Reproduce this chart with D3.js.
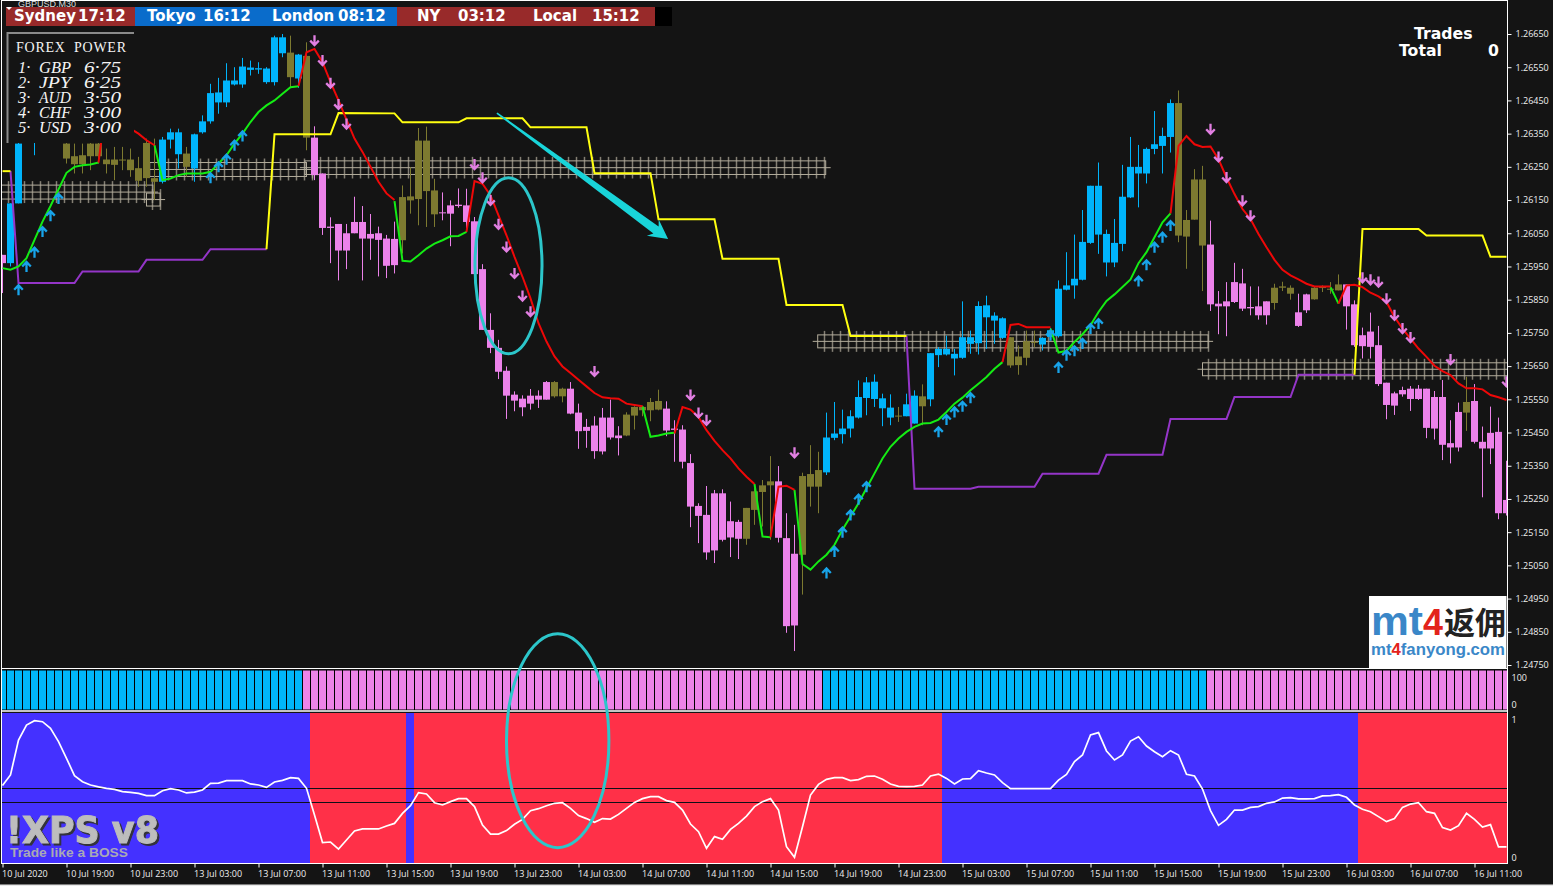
<!DOCTYPE html>
<html>
<head>
<meta charset="utf-8">
<title>GBPUSD M30</title>
<script src="https://cdn.jsdelivr.net/npm/d3@7"></script>
<style>
    html, body { margin: 0; padding: 0; background: #141414; overflow: hidden; }
    svg { display: block; }
</style>
</head>
<body>
<div id="chart"></div>
<script>
// all prices are in points (1 point = 0.00001)
const bodyHigh = [125985,126140,126320,126410,126450,126470,126490,126420,126320,126282,126285,126320,126320,126272,126272,126272,126272,126246,126322,126216,126332,126354,126354,126290,126348,126387,126472,126474,126510,126510,126552,126549,126547,126546,126640,126640,126594,126588,126584,126338,126230,126070,126078,126050,126084,126084,126048,126050,126034,126033,126159,126161,126329,126329,126179,126113,126134,126136,126134,126086,125942,125759,125705,125636,125564,125552,125561,125561,125602,125602,125582,125582,125510,125467,125471,125495,125495,125441,125504,125527,125527,125542,125545,125522,125462,125459,125358,125229,125202,125267,125267,125183,125181,125223,125273,125291,125303,125303,125132,125085,125319,125325,125337,125435,125447,125462,125499,125557,125601,125603,125553,125525,125501,125535,125561,125559,125689,125702,125702,125687,125737,125737,125831,125833,125802,125794,125737,125679,125725,125723,125735,125758,125883,125893,125913,126024,126193,126193,126048,126021,126160,126250,126250,126304,126318,126343,126442,126442,126090,126212,126212,126016,125838,125845,125903,125899,125828,125830,125845,125886,125890,125886,125812,125866,125886,125888,125883,125896,125896,125836,125743,125754,125713,125600,125568,125578,125582,125582,125582,125557,125557,125418,125512,125542,125545,125422,125449,125452,125247];
const bodyLow = [125960,125960,126140,126330,126330,126420,126460,126340,126275,126258,126258,126282,126282,126258,126256,126270,126240,126208,126216,126205,126205,126332,126288,126250,126245,126354,126387,126444,126444,126498,126498,126542,126543,126505,126505,126592,126520,126516,126338,126225,126066,126066,125998,125998,126050,126034,126034,126030,125952,125954,126029,126149,126153,126177,126107,126111,126109,126132,126084,125927,125759,125705,125633,125561,125546,125526,125537,125549,125549,125559,125559,125507,125454,125455,125394,125393,125435,125433,125441,125501,125517,125517,125519,125456,125458,125362,125227,125199,125089,125095,125127,125134,125130,125130,125217,125271,125291,125133,124867,124869,125082,125287,125287,125330,125434,125445,125462,125495,125554,125551,125523,125495,125499,125499,125477,125529,125550,125683,125685,125673,125675,125717,125719,125797,125787,125735,125652,125653,125675,125721,125715,125738,125740,125880,125893,125910,126021,126046,125962,125962,126018,126158,126230,126230,126304,126313,126340,126043,126040,126091,126013,125836,125830,125830,125843,125823,125824,125803,125803,125840,125886,125868,125771,125818,125851,125886,125881,125878,125830,125713,125710,125708,125596,125533,125531,125565,125551,125551,125464,125462,125413,125405,125405,125510,125422,125402,125402,125207,125207];
const wickHigh = [125985,126140,126340,126430,126470,126500,126520,126530,126350,126320,126320,126340,126350,126305,126310,126310,126305,126280,126335,126335,126340,126365,126365,126310,126350,126405,126500,126518,126562,126550,126578,126570,126565,126550,126645,126650,126645,126590,126625,126372,126230,126098,126078,126078,126160,126132,126108,126070,126045,126085,126194,126249,126367,126371,126214,126173,126149,126185,126184,126099,125957,125809,125729,125649,125574,125562,125581,125577,125605,125605,125585,125602,125537,125491,125499,125524,125549,125469,125511,125529,125531,125554,125579,125544,125487,125472,125385,125237,125289,125277,125279,125242,125187,125223,125295,125307,125379,125349,125207,125172,125329,125412,125392,125510,125542,125519,125517,125607,125617,125625,125567,125565,125527,125567,125577,125595,125689,125707,125742,125702,125845,125757,125845,125862,125812,125797,125737,125712,125757,125757,125737,125765,125908,125993,126046,126120,126193,126263,126061,126093,126256,126340,126316,126308,126418,126368,126453,126480,126120,126243,126253,126088,125876,125903,125961,125943,125890,125890,125845,125898,125904,125893,125868,125868,125888,125893,125903,125926,125896,125848,125766,125811,125771,125600,125573,125588,125590,125593,125582,125575,125608,125487,125540,125618,125596,125468,125528,125495,125365];
const wickLow = [125870,125950,126140,126330,126285,126340,126350,126340,126260,126230,126230,126240,126260,126230,126210,126240,126220,126190,126190,126150,126200,126305,126245,126220,126205,126350,126380,126410,126430,126495,126488,126525,126530,126500,126495,126580,126490,126488,126300,126210,126045,125960,125908,125942,126050,125908,125970,125920,125915,125929,125989,126109,126074,126069,126069,126089,126011,126127,126054,125927,125759,125689,125611,125491,125514,125499,125519,125524,125549,125555,125541,125505,125401,125404,125371,125384,125429,125381,125439,125459,125499,125484,125517,125439,125362,125342,125165,125117,125067,125057,125122,125075,125069,125112,125172,125167,125127,125119,124847,124792,124962,125227,125207,125322,125427,125417,125435,125492,125502,125527,125469,125472,125482,125499,125477,125472,125529,125647,125682,125622,125672,125687,125685,125702,125717,125732,125645,125624,125652,125707,125697,125730,125736,125878,125853,125908,126018,125988,125920,125948,125996,126156,126128,126200,126288,126230,126293,126023,125943,126091,125876,125816,125746,125740,125840,125816,125803,125790,125775,125820,125876,125850,125768,125810,125850,125873,125868,125878,125760,125708,125673,125673,125590,125490,125503,125558,125515,125548,125433,125429,125367,125357,125393,125455,125417,125255,125355,125189,125200];
// candle colour runs: b blue, o olive, p violet
const toneRuns = [['p',1],['b',5],['o',14],['b',3],['o',1],['b',12],['o',1],['b',1],['o',1],['p',11],['o',5],['p',14],['o',2],['p',7],['o',5],['p',10],['o',4],['p',3],['o',3],['b',9],['o',1],['b',2],['o',1],['b',10],['o',4],['b',17],['o',4],['p',8],['o',3],['p',2],['o',4],['p',15],['o',1],['p',5]];

// moving average pieces as [bar, price]
const maGreen = [
    [[0,125945],[1,125940],[2,125950],[3,125975],[4,126030],[5,126085],[6,126132],[7,126182],[8,126232],[9,126250],[10,126255],[11,126257],[12,126263]],
    [[19,126315],[20,126210],[21,126215],[22,126225],[23,126230],[24,126230],[25,126230],[26,126235],[27,126260],[28,126285],[29,126320],[30,126350],[31,126385],[32,126415],[33,126435],[34,126450],[35,126470],[36,126490],[37,126493]],
    [[49,126147],[50,125967],[51,125965],[52,125984],[53,126004],[54,126019],[55,126029],[56,126041],[57,126042],[58,126054]],
    [[80,125529],[81,125437],[82,125441],[83,125447],[84,125449]],
    [[94,125295],[95,125137],[96,125135]],
    [[99,125277],[100,125054],[101,125037],[102,125062],[103,125082],[104,125112],[105,125157],[106,125197],[107,125237],[108,125282],[109,125327],[110,125372],[111,125407],[112,125432],[113,125452],[114,125467],[115,125477],[116,125479],[117,125489],[118,125512],[119,125537],[120,125555],[121,125577],[122,125597],[123,125617],[124,125642],[125,125662]],
    [[131,125763],[132,125691],[133,125696],[134,125723],[135,125746],[136,125773],[137,125813],[138,125846],[139,125866],[140,125888],[141,125911],[142,125960],[143,125993],[144,126038],[145,126083],[146,126110]],
    [[166,125888],[167,125838]]
];
const maRed = [
    [[12,126263],[13,126450],[14,126430],[15,126400],[16,126365],[17,126350],[18,126330],[19,126315]],
    [[37,126493],[38,126595],[39,126605],[40,126565],[41,126505],[42,126450],[43,126392],[44,126335],[45,126295],[46,126250],[47,126205],[48,126170],[49,126150]],
    [[58,126054],[59,126207],[60,126199],[61,126164],[62,126104],[63,126044],[64,125979],[65,125919],[66,125854],[67,125779],[68,125724],[69,125679],[70,125649],[71,125629],[72,125609],[73,125589],[74,125569],[75,125556],[76,125553],[77,125552],[78,125537],[79,125533],[80,125529]],
    [[84,125447],[85,125527],[86,125519],[87,125497],[88,125457],[89,125425],[90,125397],[91,125372],[92,125342],[93,125317],[94,125295]],
    [[96,125135],[97,125287],[98,125290],[99,125277]],
    [[125,125662],[126,125774],[127,125777],[128,125767],[129,125767],[130,125767],[131,125767]],
    [[146,126110],[147,126313],[148,126343],[149,126318],[150,126310],[151,126311],[152,126273],[153,126218],[154,126168],[155,126123],[156,126093],[157,126048],[158,126008],[159,125970],[160,125940],[161,125923],[162,125911],[163,125898],[164,125890],[165,125890],[166,125890]],
    [[167,125838],[168,125893],[169,125895],[170,125888],[171,125871],[172,125860],[173,125843],[174,125798],[175,125763],[176,125733],[177,125703],[178,125678],[179,125651],[180,125635],[181,125623],[182,125598],[183,125583],[184,125583],[185,125580],[186,125563],[187,125556],[188,125548]]
];

// stepped channel lines, yellow above price and purple below
const channelYellow = [
    [[0,126237],[1,126237]],
    [[33,126002],[34,126348],[41,126348],[42,126412],[49,126411],[50,126384],[57,126384],[58,126396],[65,126396],[66,126369],[73,126369],[74,126231],[81,126231],[82,126092],[89,126092],[90,125973],[97,125973],[98,125834],[105,125834],[106,125741],[113,125741]],
    [[169,125624],[170,126063],[177,126063],[178,126043],[185,126043],[186,125979],[188,125979]]
];
const channelPurple = [
    [[1,126237],[2,125900],[9,125900],[10,125935],[17,125935],[18,125970],[25,125970],[26,126002],[33,126002]],
    [[113,125741],[114,125281],[121,125281],[122,125287],[129,125287],[130,125326],[137,125326],[138,125383],[145,125383],[146,125491],[153,125491],[154,125557],[161,125557],[162,125624],[169,125624]]
];

// signal arrows as [bar, price]
const arrowsUp = [[2,125880],[3,125950],[4,125993],[5,126055],[6,126103],[7,126155],[26,126217],[27,126250],[28,126273],[29,126315],[30,126343],[103,125027],[104,125092],[105,125150],[106,125202],[107,125249],[108,125287],[117,125452],[118,125489],[119,125512],[120,125529],[121,125555],[131,125743],[132,125646],[133,125683],[134,125696],[135,125718],[136,125763],[137,125778],[142,125906],[143,125955],[144,126008],[145,126038],[146,126073]];
const arrowsDown = [[39,126630],[40,126570],[41,126502],[42,126438],[43,126379],[59,126257],[60,126217],[61,126149],[62,126077],[63,126009],[64,125929],[65,125861],[66,125814],[74,125634],[86,125563],[87,125509],[88,125487],[99,125389],[151,126363],[152,126280],[153,126218],[155,126148],[156,126103],[170,125916],[171,125910],[172,125903],[173,125853],[174,125803],[175,125763],[176,125736],[181,125670],[188,125603]];

// hatched support and resistance zones: start bar, end bar, top, bottom
const zones = [
    [-0.3,18.8,126195,126153],
    [18.0,19.7,126171,126132],
    [18.4,38.0,126263,126221],
    [37.8,102.9,126268,126227],
    [101.9,150.7,125744,125705],
    [150.0,188.3,125660,125621]
];

// lower panels
const trendRuns = [['b',38],['p',65],['b',48],['p',38]];
const signalRuns = [['b',39],['r',12],['b',1],['r',66],['b',52],['r',19]];
const signalLevels = [0.5,0.41];
const signalLine = [.516,.587,.82,.92,.949,.942,.898,.809,.698,.582,.542,.52,.507,.498,.491,.476,.471,.464,.449,.449,.482,.496,.487,.467,.473,.487,.531,.533,.549,.549,.549,.527,.52,.504,.54,.551,.569,.564,.498,.32,.136,.14,.093,.153,.213,.227,.227,.227,.247,.264,.331,.382,.469,.46,.402,.387,.409,.429,.429,.376,.253,.193,.193,.216,.258,.291,.349,.362,.382,.398,.402,.364,.316,.296,.271,.296,.293,.324,.364,.404,.429,.442,.442,.416,.404,.353,.26,.209,.098,.176,.158,.224,.264,.313,.376,.409,.429,.353,.109,.038,.242,.453,.524,.558,.569,.569,.549,.556,.578,.58,.558,.527,.511,.509,.511,.52,.58,.593,.564,.527,.56,.562,.616,.6,.587,.536,.496,.496,.496,.496,.496,.496,.553,.591,.676,.72,.853,.869,.747,.687,.72,.813,.842,.78,.742,.709,.749,.72,.591,.58,.493,.349,.251,.291,.353,.353,.371,.376,.398,.407,.433,.436,.427,.427,.429,.447,.449,.456,.438,.387,.358,.342,.309,.276,.296,.371,.393,.402,.342,.331,.236,.22,.249,.331,.291,.24,.256,.107,.107];

// axis labels
const priceTicks = [126650,126550,126450,126350,126250,126150,126050,125950,125850,125750,125650,125550,125450,125350,125250,125150,125050,124950,124850,124750];
const timeBars = [0,8,16,24,32,40,48,56,64,72,80,88,96,104,112,120,128,136,144,152,160,168,176,184];
const timeLabels = ["10 Jul 2020","10 Jul 19:00","10 Jul 23:00","13 Jul 03:00","13 Jul 07:00","13 Jul 11:00","13 Jul 15:00","13 Jul 19:00","13 Jul 23:00","14 Jul 03:00","14 Jul 07:00","14 Jul 11:00","14 Jul 15:00","14 Jul 19:00","14 Jul 23:00","15 Jul 03:00","15 Jul 07:00","15 Jul 11:00","15 Jul 15:00","15 Jul 19:00","15 Jul 23:00","16 Jul 03:00","16 Jul 07:00","16 Jul 11:00"];

// header text
const sessionNames = ["Sydney","Tokyo","London","NY","Local"];
const sessionTimes = ["17:12","16:12","08:12","03:12","15:12"];
const powerCodes = ["GBP","JPY","AUD","CHF","USD"];
const powerValues = ["6·75","6·25","3·50","3·00","3·00"];

const width = 1553, height = 886;
const toneColor = { b: "#00b4fb", o: "#7d7a30", p: "#ec82ea" };
const signalColor = { b: "#4431ff", r: "#ff3048" };

// expand [tone, count] runs to one entry per bar
function expand(runs) {
    return runs.flatMap(r => d3.range(r[1]).map(() => r[0]));
}

const x = d3.scaleLinear().domain([0, 188]).range([2.5, 1506.5]);
const y = d3.scaleLinear().domain([124750, 126650]).range([665, 34]);
const yTrend = d3.scaleLinear().domain([0, 100]).range([709.5, 670.5]);
const ySignal = d3.scaleLinear().domain([0, 1]).range([863, 713]);

const svg = d3.select("#chart").append("svg")
    .attr("width", width)
    .attr("height", height)
    .style("font-family", "'Liberation Sans', sans-serif");

svg.append("rect").attr("width", width).attr("height", height).attr("fill", "#141414");

const defs = svg.append("defs");
defs.append("clipPath").attr("id", "clip-main").append("rect")
    .attr("x", 2).attr("y", 1).attr("width", 1505).attr("height", 667);
defs.append("clipPath").attr("id", "clip-low").append("rect")
    .attr("x", 2).attr("y", 670).attr("width", 1505).attr("height", 193);

const main = svg.append("g").attr("clip-path", "url(#clip-main)");

// hatched zones go behind the candles
zones.forEach(z => {
    const g = main.append("g").attr("stroke", "#b3ad9c").attr("fill", "none");
    const top = y(z[2]), bottom = y(z[3]);
    g.append("rect")
        .attr("x", x(z[0])).attr("y", top)
        .attr("width", x(z[1]) - x(z[0])).attr("height", bottom - top);
    g.append("line")
        .attr("x1", x(z[0]) - 5).attr("x2", x(z[1]) + 5)
        .attr("y1", (top + bottom) / 2).attr("y2", (top + bottom) / 2);
    g.selectAll("line.tie")
        .data(d3.range(Math.ceil(z[0]), Math.floor(z[1]) + 1))
        .enter().append("line")
        .attr("class", "tie")
        .attr("x1", d => x(d + 0.75)).attr("x2", d => x(d + 0.75))
        .attr("y1", top - 4).attr("y2", bottom + 4)
        .attr("stroke-width", 1.5)
        .attr("stroke-opacity", 0.7);
});

// candles
const tones = expand(toneRuns);
const candles = main.append("g").selectAll("g")
    .data(tones)
    .enter().append("g")
    .attr("fill", d => toneColor[d])
    .attr("stroke", d => toneColor[d]);
candles.append("line")
    .attr("x1", (d, i) => x(i)).attr("x2", (d, i) => x(i))
    .attr("y1", (d, i) => y(wickHigh[i])).attr("y2", (d, i) => y(wickLow[i]));
candles.append("rect")
    .attr("x", (d, i) => x(i) - 3.5)
    .attr("width", 7)
    .attr("y", (d, i) => y(bodyHigh[i]))
    .attr("height", (d, i) => Math.max(1, y(bodyLow[i]) - y(bodyHigh[i])))
    .attr("stroke", "none");

// indicator lines
const line = d3.line().x(d => x(d[0])).y(d => y(d[1]));
function drawPieces(pieces, color) {
    main.append("g").selectAll("path")
        .data(pieces)
        .enter().append("path")
        .attr("d", line)
        .attr("fill", "none")
        .attr("stroke", color)
        .attr("stroke-width", 2);
}
drawPieces(channelPurple, "#9435c8");
drawPieces(channelYellow, "#ffff10");
drawPieces(maGreen, "#14ec14");
drawPieces(maRed, "#ee0808");

// signal arrows
main.append("g").selectAll("path")
    .data(arrowsUp)
    .enter().append("path")
    .attr("transform", d => `translate(${x(d[0])},${y(d[1])})`)
    .attr("d", "M0,5.5V-4.5M-4.3,0L0,-4.5L4.3,0")
    .attr("fill", "none").attr("stroke", "#18a4ea").attr("stroke-width", 2.3);
main.append("g").selectAll("path")
    .data(arrowsDown)
    .enter().append("path")
    .attr("transform", d => `translate(${x(d[0])},${y(d[1])})`)
    .attr("d", "M0,-5.5V4.5M-4.3,0L0,4.5L4.3,0")
    .attr("fill", "none").attr("stroke", "#e27fe2").attr("stroke-width", 2.3);

// momentum histogram, one full height bar per candle
svg.append("rect").attr("x", 2).attr("y", 670).attr("width", 1505).attr("height", 40).attr("fill", "#000");
const low = svg.append("g").attr("clip-path", "url(#clip-low)");
low.append("g").selectAll("rect")
    .data(expand(trendRuns))
    .enter().append("rect")
    .attr("x", (d, i) => x(i) - 3.5)
    .attr("width", 7)
    .attr("y", yTrend(100))
    .attr("height", yTrend(0) - yTrend(100))
    .attr("fill", d => d === "b" ? "#00b7fa" : "#ec84e8");

// signal panel background
low.append("g").selectAll("rect")
    .data(expand(signalRuns))
    .enter().append("rect")
    .attr("x", (d, i) => x(i) - 4.5)
    .attr("width", 8)
    .attr("y", ySignal(1))
    .attr("height", ySignal(0) - ySignal(1))
    .attr("fill", d => signalColor[d]);
low.append("rect").attr("x", 1502).attr("y", ySignal(1)).attr("width", 5).attr("height", ySignal(0) - ySignal(1)).attr("fill", signalColor.r);

low.append("g").selectAll("line")
    .data(signalLevels)
    .enter().append("line")
    .attr("x1", 2).attr("x2", 1507)
    .attr("y1", d => Math.round(ySignal(d)) + 0.5).attr("y2", d => Math.round(ySignal(d)) + 0.5)
    .attr("stroke", "#101018");

low.append("path")
    .datum(signalLine)
    .attr("fill", "none")
    .attr("stroke", "#fff")
    .attr("stroke-width", 1.7)
    .attr("d", d3.line().x((d, i) => x(i)).y(d => ySignal(d)));

// panel frame
const frame = svg.append("g").attr("stroke", "#fff").attr("fill", "none");
[[1.5, 1507.5, 0.5, 0.5], [1.5, 1507.5, 668.5, 668.5], [1.5, 1507.5, 711, 711], [1.5, 1507.5, 863.5, 863.5], [1.5, 1.5, 0, 864], [1507.5, 1507.5, 0, 864]]
    .forEach(f => frame.append("line").attr("x1", f[0]).attr("x2", f[1]).attr("y1", f[2]).attr("y2", f[3]));
frame.select("line:nth-child(3)").attr("stroke-width", 1.6);
svg.append("rect").attr("y", 884.5).attr("width", width).attr("height", 1.5).attr("fill", "#e8e8e8");

// axes
function styleAxis(g) {
    g.select(".domain").remove();
    g.selectAll("line").attr("stroke", "#fff");
    g.selectAll("text").attr("fill", "#f0f0f0").style("font-size", "9px").style("font-family", "'Open Sans', sans-serif");
}
svg.append("g")
    .attr("transform", "translate(1507.5,0)")
    .call(d3.axisRight(y).tickValues(priceTicks).tickSize(4).tickPadding(4).tickFormat(d => (d / 1e5).toFixed(5)))
    .call(styleAxis);
svg.append("g")
    .attr("transform", "translate(1507.5,0)")
    .call(d3.axisRight(yTrend).tickValues([0, 100]).tickSize(0).tickPadding(4).tickFormat(d3.format("d")))
    .call(styleAxis)
    .selectAll("text").attr("dy", d => d ? 10 : -2);
svg.append("g")
    .attr("transform", "translate(1507.5,0)")
    .call(d3.axisRight(ySignal).tickValues([0, 1]).tickSize(0).tickPadding(4).tickFormat(d3.format("d")))
    .call(styleAxis)
    .selectAll("text").attr("dy", d => d ? 9 : -3);
svg.append("g")
    .attr("transform", "translate(0,863.5)")
    .call(d3.axisBottom(x).tickValues(timeBars).tickSize(4).tickPadding(3).tickFormat((d, i) => timeLabels[i]))
    .call(styleAxis)
    .selectAll("text").attr("text-anchor", "start").attr("dx", -1);

// hand drawn annotations
const annotationColor = "#2cc6ca";
const ellipses = [[63.25, 125952, 4.19, 265], [69.4, 124522, 6.4, 322]];
svg.append("g").selectAll("ellipse")
    .data(ellipses)
    .enter().append("ellipse")
    .attr("cx", d => x(d[0]))
    .attr("cy", d => y(d[1]))
    .attr("rx", d => x(d[0] + d[2]) - x(d[0]))
    .attr("ry", d => y(d[1] - d[3]) - y(d[1]))
    .attr("fill", "none")
    .attr("stroke", annotationColor)
    .attr("stroke-width", 3);

const arrowFrom = [61.8, 126412], arrowTo = [83.2, 126033];
(function drawBigArrow() {
    const x0 = x(arrowFrom[0]), y0 = y(arrowFrom[1]), x1 = x(arrowTo[0]), y1 = y(arrowTo[1]);
    const len = Math.hypot(x1 - x0, y1 - y0);
    const ux = (x1 - x0) / len, uy = (y1 - y0) / len;
    const at = (along, side) => [x0 + ux * along - uy * side, y0 + uy * along + ux * side];
    svg.append("polygon")
        .attr("points", [at(0, -0.8), at(0, 0.8), at(len - 15, 4.4), at(len - 19, 10), at(len, 0), at(len - 19, -10), at(len - 15, -4.4)].join(" "))
        .attr("fill", "#19d4d9");
})();

// session clock strip
svg.append("text").attr("x", 18).attr("y", 7).attr("fill", "#ddd").style("font-size", "9px").text("GBPUSD,M30");
const sessionEdges = [6, 135, 265, 397, 526, 655];
const sessionFill = ["#982a2a", "#0a6ccb", "#0a6ccb", "#982a2a", "#982a2a"];
const nameX = [14, 147, 272, 417, 533];
const timeX = [78, 203, 338, 458, 592];
const clock = svg.append("g").style("font-family", "'DejaVu Sans', sans-serif").style("font-weight", "bold").style("font-size", "15px").attr("fill", "#fff");
sessionNames.forEach((name, i) => {
    clock.append("rect")
        .attr("x", sessionEdges[i]).attr("y", 7)
        .attr("width", sessionEdges[i + 1] - sessionEdges[i]).attr("height", 19)
        .attr("fill", sessionFill[i]);
    clock.append("text").attr("x", nameX[i]).attr("y", 21).text(name);
    clock.append("text").attr("x", timeX[i]).attr("y", 21).text(sessionTimes[i]);
});
svg.append("rect").attr("x", 655).attr("y", 7).attr("width", 17).attr("height", 19).attr("fill", "#000");
svg.append("path").attr("d", "M6,7H12L9,10Z").attr("fill", "#fff");

// forex power box
svg.append("rect").attr("x", 7).attr("y", 32).attr("width", 127).attr("height", 111).attr("fill", "#141414");
svg.append("path").attr("d", "M134,33H7.5V143").attr("fill", "none").attr("stroke", "#8a8a8a").attr("stroke-width", 2);
const power = svg.append("g").style("font-family", "'Liberation Serif', serif").attr("fill", "#f4f4f4");
power.append("text").attr("x", 16).attr("y", 52).style("font-size", "14px").attr("textLength", 110).attr("xml:space", "preserve").text("FOREX  POWER");
powerCodes.forEach((code, i) => {
    const rowY = 72.5 + i * 15;
    const row = power.append("g").style("font-size", "16.5px").style("font-style", "italic");
    row.append("text").attr("x", 18).attr("y", rowY).text((i + 1) + "·");
    row.append("text").attr("x", 39).attr("y", rowY).attr("textLength", 32).attr("lengthAdjust", "spacingAndGlyphs").text(code);
    row.append("text").attr("x", 84).attr("y", rowY).attr("textLength", 37).attr("lengthAdjust", "spacingAndGlyphs").text(powerValues[i]);
});

// trades counter
const trades = svg.append("g").style("font-family", "'DejaVu Sans', sans-serif").style("font-weight", "bold").style("font-size", "15.7px").attr("fill", "#fff");
trades.append("text").attr("x", 1414).attr("y", 39).text("Trades");
trades.append("text").attr("x", 1399).attr("y", 56).text("Total");
trades.append("text").attr("x", 1488).attr("y", 56).text("0");

// watermarks
const xps = svg.append("g").style("font-weight", "bold");
xps.append("text").attr("x", 6).attr("y", 843).attr("fill", "#bdbdbd").attr("stroke", "#bdbdbd").attr("stroke-width", 1)
    .style("filter", "drop-shadow(2px 2px 0 #33333a)")
    .style("font-family", "'DejaVu Sans', sans-serif").style("font-size", "37px").attr("textLength", 153).attr("lengthAdjust", "spacingAndGlyphs").text("!XPS v8");
xps.append("text").attr("x", 10).attr("y", 857).attr("fill", "#a9a9b4").style("font-size", "13.5px").attr("textLength", 118).attr("lengthAdjust", "spacingAndGlyphs").text("Trade like a BOSS");

const logo = svg.append("g").style("font-weight", "bold");
logo.append("rect").attr("x", 1369).attr("y", 596).attr("width", 137.5).attr("height", 72).attr("fill", "#fff");
logo.append("text").attr("x", 1371).attr("y", 635).attr("fill", "#3a87c8").style("font-size", "40px").attr("textLength", 52).attr("lengthAdjust", "spacingAndGlyphs").text("mt");
logo.append("text").attr("x", 1423).attr("y", 635).attr("fill", "#e3231b").style("font-size", "36px").attr("textLength", 20).attr("lengthAdjust", "spacingAndGlyphs").text("4");
logo.append("text").attr("x", 1444).attr("y", 634).attr("fill", "#222").style("font-family", "'Noto Sans CJK SC', sans-serif").style("font-size", "31px").text("返佣");
logo.append("text").attr("x", 1371).attr("y", 655).attr("fill", "#3a87c8").style("font-size", "17px").attr("textLength", 134).attr("lengthAdjust", "spacingAndGlyphs")
    .text("mt").append("tspan").attr("fill", "#e3231b").text("4").append("tspan").attr("fill", "#3a87c8").text("fanyong.com");
</script>
</body>
</html>
